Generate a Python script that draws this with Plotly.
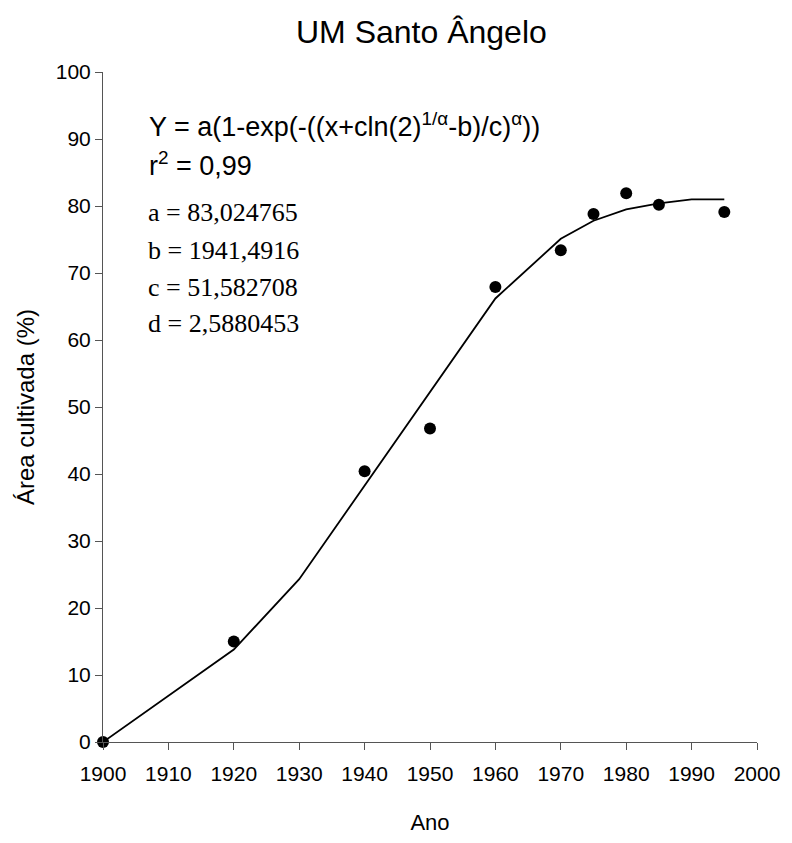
import plotly.graph_objects as go

# Observed cultivated area (%) by year
anos_obs = [1900, 1920, 1940, 1950, 1960, 1970, 1975, 1980, 1985, 1995]
area_obs = [0.0, 15.0, 40.4, 46.8, 67.9, 73.4, 78.8, 81.9, 80.2, 79.1]

# Fitted Weibull-type curve, evaluated at the model years
anos_fit = [1900, 1920, 1930, 1940, 1950, 1960, 1970, 1975, 1980, 1985, 1990, 1995]
area_fit = [0.0, 13.8, 24.3, 38.3, 52.3, 66.2, 75.1, 77.8, 79.5, 80.4, 81.0, 81.0]

x_ticks = list(range(1900, 2001, 10))
y_ticks = list(range(0, 101, 10))

params = ["a = 83,024765", "b = 1941,4916", "c = 51,582708", "d = 2,5880453"]

SANS = "Liberation Sans, Arial, sans-serif"
SERIF = "Liberation Serif, Times New Roman, serif"

fig = go.Figure()

fig.add_trace(go.Scatter(
    x=anos_fit, y=area_fit, mode="lines",
    line=dict(color="black", width=1.8),
    showlegend=False, cliponaxis=False,
))
fig.add_trace(go.Scatter(
    x=anos_obs, y=area_obs, mode="markers",
    marker=dict(color="black", size=12),
    showlegend=False, cliponaxis=False,
))

axis_common = dict(
    showgrid=False, zeroline=False, showline=True,
    linecolor="#555555", linewidth=1,
    ticks="outside", ticklen=7, tickcolor="#555555",
    tickfont=dict(family=SANS, size=21, color="black"),
)

fig.update_xaxes(
    range=[1900, 2000], tickvals=x_ticks, ticklabelstandoff=6,
    title=dict(text="Ano", font=dict(family=SANS, size=22, color="black"), standoff=30),
    **axis_common,
)
fig.update_yaxes(
    range=[0, 100], tickvals=y_ticks,
    title=dict(text="Área cultivada (%)", font=dict(family=SANS, size=24, color="black"), standoff=14),
    **axis_common,
)

annotations = [
    dict(text="UM Santo Ângelo", xref="paper", yref="paper", x=0.487, y=1.0, yshift=40,
         xanchor="center", yanchor="middle", showarrow=False,
         font=dict(family=SANS, size=32, color="black")),
    dict(text="Y = a(1-exp(-((x+cln(2)<sup>1/α</sup>-b)/c)<sup>α</sup>))",
         xref="paper", yref="paper", x=0.068, y=0.921,
         xanchor="left", yanchor="middle", showarrow=False,
         font=dict(family=SANS, size=27, color="black")),
    dict(text="r<sup>2</sup> = 0,99", xref="paper", yref="paper", x=0.068, y=0.862,
         xanchor="left", yanchor="middle", showarrow=False,
         font=dict(family=SANS, size=27, color="black")),
]
param_y = [0.790, 0.734, 0.679, 0.624]
for txt, yy in zip(params, param_y):
    annotations.append(dict(
        text=txt, xref="paper", yref="paper", x=0.066, y=yy,
        xanchor="left", yanchor="middle", showarrow=False,
        font=dict(family=SERIF, size=26, color="black"),
    ))

fig.update_layout(
    width=792, height=843,
    margin=dict(l=103, r=26, t=72, b=101),
    paper_bgcolor="white", plot_bgcolor="white",
    annotations=annotations,
)

fig.write_html("out.html")
